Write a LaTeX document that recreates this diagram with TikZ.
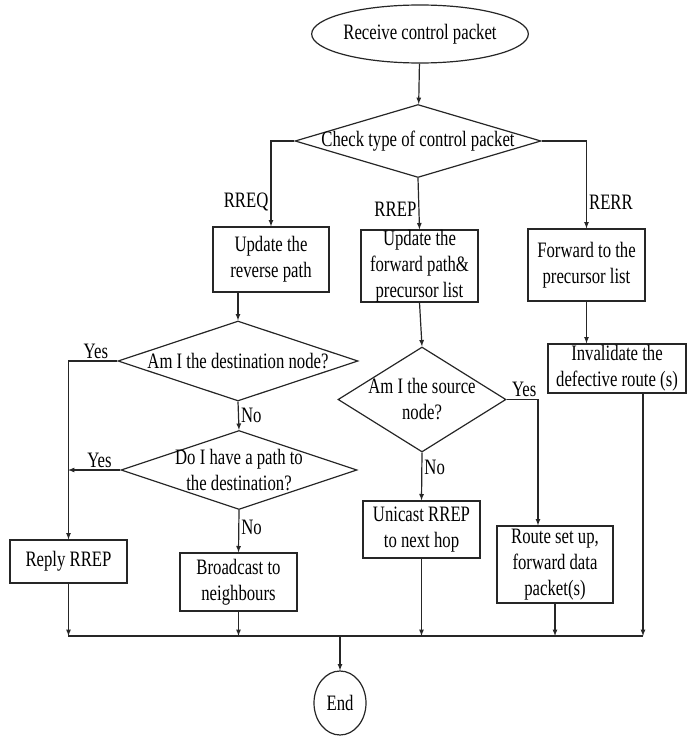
\documentclass[tikz,border=0pt]{standalone}
\usepackage{fontspec}
\setmainfont{Liberation Serif}[FakeStretch=0.76]
\usepackage{tikz}
\usetikzlibrary{shapes}
\usetikzlibrary{shapes.geometric}

\begin{document}
\begin{tikzpicture}[x=1pt, y=-1pt, line width=1.2pt, draw=black!85,
  font=\fontsize{22}{26}\selectfont,
  box/.style={draw, rectangle, align=center, inner sep=0pt},
  decision/.style={draw, diamond, inner sep=0pt},
  terminal/.style={draw, ellipse, inner sep=0pt},
  lbl/.style={inner sep=2pt}]
  \useasboundingbox (0, 0) rectangle (687, 736);
  % top of the chart
  \node[terminal, minimum width=208pt, minimum height=58pt] (start) at (420, 34) {Receive control packet};
  \node[decision, minimum width=246pt, minimum height=73pt,
        label=center:Check type of control packet] (check) at (418, 141) {};
  \node[box, minimum width=116pt, minimum height=65pt] (updrev) at (271, 259.5) {Update the\\reverse path};
  \node[box, minimum width=117pt, minimum height=72pt] (updfwd) at (419.5, 266) {Update the\\forward path\&\\precursor list};
  \node[box, minimum width=117pt, minimum height=72pt] (fwdprec) at (586.5, 265) {Forward to the\\precursor list};
  % decisions
  \node[decision, minimum width=240pt, minimum height=80pt,
        label=center:Am I the destination node?] (dest) at (238, 361) {};
  \node[decision, minimum width=168pt, minimum height=105pt,
        label={[align=center]center:Am I the source\\node?}] (src) at (422, 399.5) {};
  \node[box, minimum width=138pt, minimum height=49pt] (invalid) at (617, 368.5) {Invalidate the\\defective route (s)};
  \node[decision, minimum width=236pt, minimum height=79pt,
        label={[align=center]center:Do I have a path to\\the destination?}] (path) at (239, 470) {};
  % actions
  \node[box, minimum width=117pt, minimum height=43pt] (reply) at (68.5, 561.5) {Reply RREP};
  \node[box, minimum width=117pt, minimum height=58pt] (bcast) at (238.5, 582) {Broadcast to\\neighbours};
  \node[box, minimum width=117pt, minimum height=57pt] (unicast) at (421.5, 529.5) {Unicast RREP\\to next hop};
  \node[box, minimum width=116pt, minimum height=77pt] (route) at (555, 564.5) {Route set up,\\forward data\\packet(s)};
  \node[terminal, minimum width=52pt, minimum height=64pt] (end) at (340, 703) {End};
  \coordinate (busL) at (68, 636);
  \coordinate (busR) at (643, 636);

  \draw[-latex] (start) -- (check);
  \draw[-latex] (check.west) -| node[lbl, pos=0.86, left] {RREQ} (updrev.north);
  \draw[-latex] (check.south) -- node[lbl, pos=0.6, left] {RREP} (updfwd.north);
  \draw[-latex] (check.east) -| node[lbl, pos=0.85, right] {RERR} (fwdprec.north);
  \draw[-latex] (dest.north |- updrev.south) -- (dest.north);
  \draw[-latex] (updfwd.south) -- (src.north);
  \draw[-latex] (fwdprec.south) -- (fwdprec.south |- invalid.north);
  \draw[-latex] (dest.west) -| node[lbl, pos=0.22, above] {Yes} (reply.north);
  \draw[-latex] (dest.south) -- node[lbl, right] {No} (path.north);
  \draw[-latex] (path.west) -- node[lbl, pos=0.4, above] {Yes} (path.west -| busL);
  \draw[-latex] (path.south) -- node[lbl, pos=0.4, right] {No} (bcast.north);
  \draw[-latex] (src.east) -| node[lbl, pos=0.28, above] {Yes} ([xshift=-17pt]route.north);
  \draw[-latex] (src.south) -- node[lbl, pos=0.3, right] {No} (unicast.north);
  % into the bus and on to the end
  \foreach \n in {reply, bcast, unicast, route}{
  \draw[-latex] (\n.south) -- (\n.south |- busL);
  }
  \draw[-latex] ([xshift=26pt]invalid.south) -- (busR);
  \draw (busL) -- (busR);
  \draw[-latex] (end.north |- busL) -- (end.north);
\end{tikzpicture}
\end{document}
